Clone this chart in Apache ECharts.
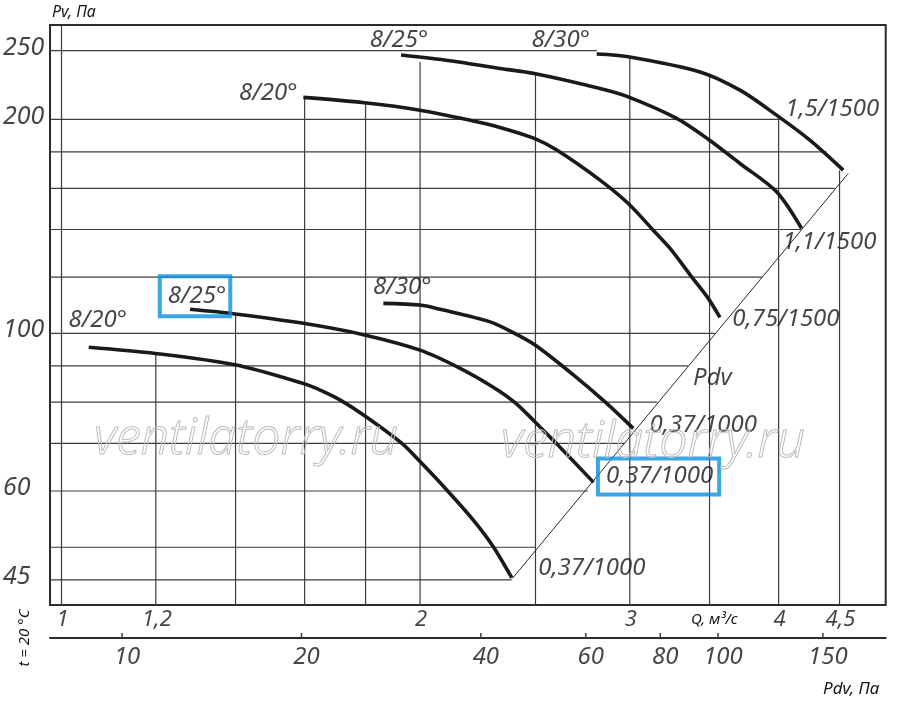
<!DOCTYPE html>
<html>
<head>
<meta charset="utf-8">
<script src="https://cdn.jsdelivr.net/npm/echarts@6/dist/echarts.min.js"></script>
<style>
  html, body { margin: 0; background: #fff; }
  #chart { width: 900px; height: 717px; }
</style>
</head>
<body>
<div id="chart"></div>
<script>
// axis extents (log scales)
const qMin = 0.978, qMax = 4.92
const pvMin = 41.47, pvMax = 271.6
const pdvMin = 7.568, pdvMax = 191.2

// tick labels
const qTicks = [1, 1.2, 2, 3, 4, 4.5]
const qTickText = ['1', '1,2', '2', '3', '4', '4,5']
const pvTicks = [45, 60, 100, 200, 250]
const pdvTicks = [10, 20, 40, 60, 80, 100, 150]

// grid lines, each one stops at the curves / Pdv line like on the sheet
const qGrid = [1, 1.2, 1.4, 1.6, 1.8, 2, 2.5, 3, 3.5, 4, 4.5]
const qGridTop = [271.6, 93.7, 106.7, 214.8, 211.1, 241.0, 231.6, 245.0, 230.0, 202.8, 169.7]
const pGrid = [45, 50, 60, 70, 80, 90, 100, 120, 140, 160, 180, 200, 250]
const pGridEnd = [2.388, 2.498, 2.767, 2.97, 3.164, 3.357, 3.536, 3.876, 4.177, 4.459, 4.388, 4.009, 2.815]

// fan curves, Q (m3/s) / Pv (Pa)
const qLo20 = [1.054, 1.199, 1.399, 1.596, 1.649, 1.713, 1.798, 1.931, 2.0, 2.106, 2.217, 2.304, 2.388]
const pLo20 = [95.6, 93.7, 90.3, 85.0, 83.2, 80.6, 76.5, 70.0, 66.0, 60.2, 54.6, 50.1, 45.3]
const qLo25 = [1.282, 1.399, 1.596, 1.796, 2.0, 2.161, 2.304, 2.403, 2.493, 2.605, 2.797]
const pLo25 = [108.1, 106.5, 103.3, 99.5, 94.7, 89.3, 84.0, 79.9, 75.3, 69.9, 61.7]
const qLo30 = [1.863, 2.0, 2.079, 2.29, 2.388, 2.498, 2.69, 2.869, 3.02]
const pLo30 = [110.2, 109.6, 108.1, 103.8, 100.5, 96.3, 87.4, 79.7, 73.5]
const qHi20 = [1.596, 1.796, 2.0, 2.203, 2.334, 2.494, 2.605, 2.832, 2.991, 3.139, 3.243, 3.381, 3.491, 3.571]
const pHi20 = [214.8, 211.1, 206.1, 199.5, 194.9, 188.1, 181.1, 164.3, 152.3, 139.7, 131.7, 120.1, 112.0, 105.3]
const qHi25 = [1.928, 2.119, 2.334, 2.494, 2.832, 2.991, 3.284, 3.491, 3.712, 3.984, 4.181]
const pHi25 = [246.4, 241.9, 235.9, 232.1, 221.1, 215.2, 200.7, 187.6, 173.4, 158.2, 140.5]
const qHi30 = [2.814, 2.991, 3.436, 3.712, 3.984, 4.249, 4.532]
const pHi30 = [247.2, 245.0, 233.3, 219.9, 202.8, 187.0, 169.7]

// Pdv line
const pdvLineQ = [2.391, 4.576]
const pdvLineP = [45.2, 167.9]

const curves = [
  { q: qLo20, p: pLo20, name: '8/20°', motor: '0,37/1000', nameOff: [9, -27], motorOff: [80, -10] },
  { q: qLo25, p: pLo25, name: '8/25°', motor: '0,37/1000', nameOff: [5, -13], motorOff: [65, -6], boxed: true },
  { q: qLo30, p: pLo30, name: '8/30°', motor: '0,37/1000', nameOff: [19, -16], motorOff: [70, -3] },
  { q: qHi20, p: pHi20, name: '8/20°', motor: '0,75/1500', nameOff: [-35, -4], motorOff: [66, 2] },
  { q: qHi25, p: pHi25, name: '8/25°', motor: '1,1/1500', nameOff: [-2, -15], motorOff: [28, 14] },
  { q: qHi30, p: pHi30, name: '8/30°', motor: '1,5/1500', nameOff: [-36, -14], motorOff: [-11, -61] }
]

const FONT = 'Noto Sans'
const INK = '#1a1a1a'
const TEXT = '#151515'
const BLUE = '#0b8ee2'

function pairs(xs, ys) {
  return xs.map((v, i) => [v, ys[i]])
}

function segment(a, b, axis, width) {
  return {
    type: 'line',
    xAxisIndex: axis,
    yAxisIndex: axis,
    data: [a, b],
    symbol: 'none',
    silent: true,
    z: 1,
    animation: false,
    lineStyle: { color: '#3d3d3d', width: width || 1.2 }
  }
}

let series = []

// grid
qGrid.forEach((q, i) => series.push(segment([q, pvMin], [q, qGridTop[i]], 0)))
pGrid.forEach((p, i) => series.push(segment([qMin, p], [pGridEnd[i], p], 0)))

// Pdv ticks on the lower scale
pdvTicks.forEach(p => series.push(segment([p, 0], [p, 1], 1, 1.5)))

// Pdv diagonal
series.push({
  type: 'line',
  data: pairs(pdvLineQ, pdvLineP),
  symbol: 'none',
  silent: true,
  z: 2,
  animation: false,
  lineStyle: { color: '#2a2a2a', width: 1 }
})

// fan curves
curves.forEach(c => {
  series.push({
    type: 'line',
    data: pairs(c.q, c.p),
    symbol: 'none',
    smooth: 0.3,
    silent: true,
    z: 3,
    animation: false,
    lineStyle: { color: INK, width: 3.6 }
  })
})

// text labels anchored to data points
let labels = []
curves.forEach(c => {
  let first = [c.q[0], c.p[0]]
  let last = [c.q[c.q.length - 1], c.p[c.p.length - 1]]
  let nameLabel = { offset: c.nameOff }
  let motorLabel = { offset: c.motorOff }
  if (c.boxed) {
    nameLabel.borderColor = BLUE
    nameLabel.borderWidth = 4
    nameLabel.padding = [8, 4, 8, 8]
    motorLabel.borderColor = BLUE
    motorLabel.borderWidth = 4
    motorLabel.padding = [6, 6, 6, 8]
  }
  labels.push({ name: c.name, value: first, label: nameLabel })
  labels.push({ name: c.motor, value: last, label: motorLabel })
})
labels.push({ name: 'Pdv', value: [pdvLineQ[0], pdvLineP[0]], label: { offset: [200, -200] } })
qTicks.forEach((q, i) => {
  labels.push({ name: qTickText[i], value: [q, pvMin], label: { offset: [1, 15], fontSize: 22 } })
})
pvTicks.forEach(p => {
  labels.push({ name: String(p), value: [qMin, p], label: { align: 'left', offset: [-47, -3], fontSize: 25 } })
})

series.push({
  type: 'scatter',
  data: labels,
  symbolSize: 0,
  clip: false,
  silent: true,
  z: 10,
  animation: false,
  label: {
    show: true,
    position: 'inside',
    formatter: '{b}',
    align: 'center',
    verticalAlign: 'middle',
    color: TEXT,
    fontFamily: FONT,
    fontStyle: 'italic',
    fontSize: 24
  }
})

series.push({
  type: 'scatter',
  xAxisIndex: 1,
  yAxisIndex: 1,
  data: pdvTicks.map(p => ({ name: String(p), value: [p, 0] })),
  symbolSize: 0,
  clip: false,
  silent: true,
  z: 10,
  animation: false,
  label: {
    show: true,
    position: 'inside',
    formatter: '{b}',
    align: 'center',
    verticalAlign: 'middle',
    offset: [5, 19],
    color: TEXT,
    fontFamily: FONT,
    fontStyle: 'italic',
    fontSize: 24
  }
})

const hidden = {
  axisLine: { show: false },
  axisTick: { show: false },
  axisLabel: { show: false },
  splitLine: { show: false }
}

const chart = echarts.init(document.getElementById('chart'), null, { renderer: 'canvas' })
chart.setOption({
  backgroundColor: '#fff',
  animation: false,
  grid: [
    { left: 50, top: 25, right: 14.3, bottom: 112, show: true, borderColor: '#2b2b2b', borderWidth: 2, outerBoundsMode: 'none' },
    { left: 50, top: 633, right: 14.3, height: 5, outerBoundsMode: 'none' }
  ],
  xAxis: [
    Object.assign({ type: 'log', gridIndex: 0, min: qMin, max: qMax }, hidden),
    Object.assign({}, hidden, {
      type: 'log', gridIndex: 1, min: pdvMin, max: pdvMax, position: 'bottom',
      axisLine: { show: true, lineStyle: { color: '#2b2b2b', width: 2 } }
    })
  ],
  yAxis: [
    Object.assign({ type: 'log', gridIndex: 0, min: pvMin, max: pvMax }, hidden),
    Object.assign({ type: 'value', gridIndex: 1, min: 0, max: 1 }, hidden)
  ],
  graphic: [
    { type: 'text', left: 52, top: 4, style: { text: 'Pv, Па', font: 'italic 16px "Noto Sans"', fill: TEXT } },
    { type: 'text', x: 691, y: 620, style: { text: 'Q, м³/с', font: 'italic 15px "Noto Sans"', fill: TEXT, verticalAlign: 'middle' } },
    { type: 'text', x: 823, y: 689, style: { text: 'Pdv, Па', font: 'italic 17px "Noto Sans"', fill: TEXT, verticalAlign: 'middle' } },
    { type: 'text', x: 25, y: 638, rotation: Math.PI / 2, style: { text: 't = 20 °C', font: 'italic 15px "Noto Sans"', fill: TEXT, align: 'center', verticalAlign: 'middle' } },
    { type: 'text', x: 246, y: 440, z: 100, style: { text: 'ventilatorry.ru', font: 'italic 300 50px "Noto Sans"', fill: 'rgba(255,255,255,0)', stroke: '#bdbdbd', lineWidth: 1, align: 'center', verticalAlign: 'middle' } },
    { type: 'text', x: 653, y: 443, z: 100, style: { text: 'ventilatorry.ru', font: 'italic 300 50px "Noto Sans"', fill: 'rgba(255,255,255,0)', stroke: '#bdbdbd', lineWidth: 1, align: 'center', verticalAlign: 'middle' } }
  ],
  series: series
})
</script>
</body>
</html>
